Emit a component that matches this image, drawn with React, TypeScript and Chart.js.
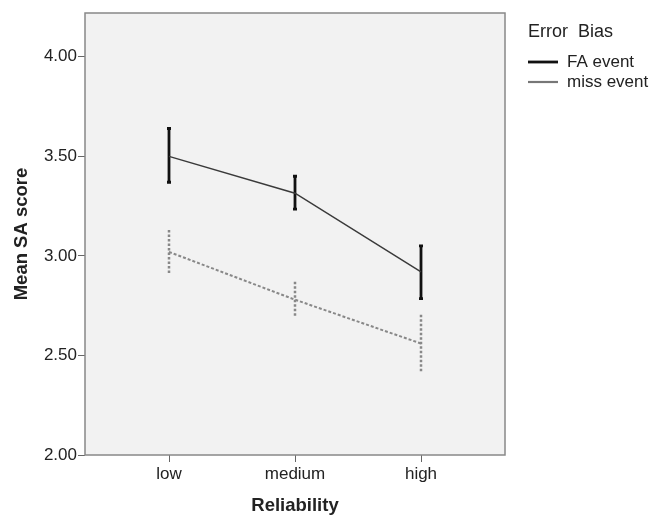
import React, { useEffect, useRef } from "react";
import { Chart, registerables } from "chart.js";

Chart.register(...registerables);

const categories = ["low", "medium", "high"];
const faMean = [3.5, 3.315, 2.92];
const faUpper = [3.64, 3.4, 3.05];
const faLower = [3.37, 3.235, 2.785];
const missMean = [3.02, 2.78, 2.56];
const missUpper = [3.13, 2.87, 2.705];
const missLower = [2.91, 2.69, 2.41];
const yTicks = [2.0, 2.5, 3.0, 3.5, 4.0];
const legendTitle = "Error  Bias";
const seriesNames = ["FA event", "miss event"];

const FONT = "'Liberation Sans', Arial, sans-serif";

export default function App() {
  const ref = useRef<HTMLCanvasElement | null>(null);
  useEffect(() => {
    if (!ref.current) return;
    const bgPlugin = {
      id: "bgPlugin",
      beforeDatasetsDraw(chart: any) {
        const { ctx, chartArea: a } = chart;
        ctx.save();
        ctx.fillStyle = "#f2f2f2";
        ctx.fillRect(a.left, a.top, a.right - a.left, a.bottom - a.top);
        ctx.strokeStyle = "#888";
        ctx.lineWidth = 1.5;
        ctx.strokeRect(a.left, a.top, a.right - a.left, a.bottom - a.top);
        const xs = chart.scales.x;
        const ys = chart.scales.y;
        const drawBars = (up: number[], lo: number[], color: string, w: number, dash: number[], cap: number) => {
          ctx.strokeStyle = color;
          ctx.lineWidth = w;
          ctx.setLineDash(dash);
          up.forEach((u, i) => {
            const x = xs.getPixelForValue(i);
            const y1 = ys.getPixelForValue(u);
            const y2 = ys.getPixelForValue(lo[i]);
            ctx.beginPath();
            ctx.moveTo(x, y1);
            ctx.lineTo(x, y2);
            ctx.stroke();
            if (cap > 0) {
              ctx.setLineDash([]);
              ctx.beginPath();
              ctx.moveTo(x - cap, y1);
              ctx.lineTo(x + cap, y1);
              ctx.moveTo(x - cap, y2);
              ctx.lineTo(x + cap, y2);
              ctx.stroke();
              ctx.setLineDash(dash);
            }
          });
          ctx.setLineDash([]);
        };
        drawBars(faUpper, faLower, "#111", 2.8, [], 2);
        drawBars(missUpper, missLower, "#888", 2.5, [2.5, 2], 0);
        ctx.restore();
      },
      afterDraw(chart: any) {
        const { ctx } = chart;
        ctx.save();
        ctx.fillStyle = "#222";
        ctx.textBaseline = "middle";
        ctx.textAlign = "left";
        ctx.font = `18px ${FONT}`;
        ctx.fillText(legendTitle, 528, 32);
        ctx.font = `17px ${FONT}`;
        const entries = [
          { y: 62, color: "#111", w: 2.8 },
          { y: 82, color: "#777", w: 2.2 },
        ];
        entries.forEach((e, i) => {
          ctx.strokeStyle = e.color;
          ctx.lineWidth = e.w;
          ctx.beginPath();
          ctx.moveTo(528, e.y);
          ctx.lineTo(558, e.y);
          ctx.stroke();
          ctx.fillText(seriesNames[i], 567, e.y);
        });
        ctx.restore();
      },
    };

    const chart = new Chart(ref.current, {
      type: "line",
      data: {
        datasets: [
          {
            label: seriesNames[0],
            data: faMean.map((v, i) => ({ x: i, y: v })),
            borderColor: "#3a3a3a",
            borderWidth: 1.5,
            pointRadius: 0,
            tension: 0,
          },
          {
            label: seriesNames[1],
            data: missMean.map((v, i) => ({ x: i, y: v })),
            borderColor: "#888",
            borderWidth: 2,
            borderDash: [3, 2],
            pointRadius: 0,
            tension: 0,
          },
        ],
      },
      options: {
        animation: false,
        responsive: false,
        layout: { padding: { top: 13, right: 150, left: 0, bottom: 0 } },
        plugins: { legend: { display: false }, tooltip: { enabled: false } },
        scales: {
          x: {
            type: "linear",
            min: -2 / 3,
            max: 2 + 2 / 3,
            afterBuildTicks: (s: any) => {
              s.ticks = categories.map((_, i) => ({ value: i }));
            },
            afterFit: (s: any) => {
              s.height = 60;
            },
            ticks: {
              callback: (v: any) => categories[Math.round(Number(v))] ?? "",
              font: { family: FONT, size: 17 },
              color: "#222",
              padding: 2,
              maxRotation: 0,
            },
            grid: { drawOnChartArea: false, tickLength: 7, color: "#666", lineWidth: 1 },
            border: { display: false },
            title: {
              display: true,
              text: "Reliability",
              font: { family: FONT, size: 18.5, weight: "bold", lineHeight: 1 },
              color: "#222",
              padding: { top: 0, bottom: 0 },
            },
          },
          y: {
            type: "linear",
            min: 2,
            max: 4.22,
            afterBuildTicks: (s: any) => {
              s.ticks = yTicks.map((v) => ({ value: v }));
            },
            afterFit: (s: any) => {
              s.width = 85;
            },
            ticks: {
              callback: (v: any) => Number(v).toFixed(2),
              font: { family: FONT, size: 17 },
              color: "#222",
              padding: 1,
            },
            grid: { drawOnChartArea: false, tickLength: 7, color: "#666", lineWidth: 1 },
            border: { display: false },
            title: {
              display: true,
              text: "Mean SA score",
              font: { family: FONT, size: 18.5, weight: "bold", lineHeight: 1 },
              color: "#222",
              padding: { top: 13, bottom: 0 },
            },
          },
        },
      },
      plugins: [bgPlugin],
    });
    return () => chart.destroy();
  }, []);
  return (
    <div style={{ position: "fixed", left: 0, top: 0, width: 655, height: 515, background: "#fff" }}>
      <canvas ref={ref} width={655} height={515} style={{ width: 655, height: 515 }} />
    </div>
  );
}
